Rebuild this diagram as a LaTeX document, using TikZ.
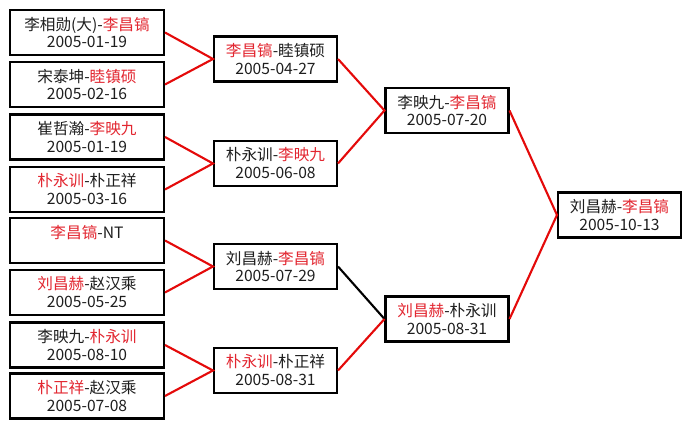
\documentclass[tikz,border=0pt]{standalone}
\usepackage{xcolor}
\usepackage{fontspec}
\setmainfont{Noto Sans CJK SC}
\definecolor{wred}{RGB}{226,38,48}
\definecolor{lred}{RGB}{228,10,10}
\definecolor{tgray}{RGB}{30,30,30}
\usetikzlibrary{positioning}
\newcommand{\win}[1]{\textcolor{wred}{#1}}
\tikzset{
  game/.style={draw=black, line width=1.15pt, minimum height=0.9cm, inner sep=0pt,
    align=center, text=tgray, font=\fontsize{8.9}{10.2}\selectfont},
  first/.style={game, minimum width=3.08cm},
  later/.style={game, minimum width=2.46cm},
  redline/.style={lred, line width=1.2pt},
  blackline/.style={black, line width=1.2pt}
}

\begin{document}
\begin{tikzpicture}
  \useasboundingbox (0,0) rectangle (13.82,8.58);

  % First round
  \node[first] (r1a) at (1.74,7.93) {李相勋(大)-\win{李昌镐}\\2005-01-19};
  \node[first] (r1b) at (1.74,6.89) {宋泰坤-\win{睦镇硕}\\2005-02-16};
  \node[first] (r1c) at (1.74,5.84) {崔哲瀚-\win{李映九}\\2005-01-19};
  \node[first] (r1d) at (1.74,4.79) {\win{朴永训}-朴正祥\\2005-03-16};
  \node[first] (r1e) at (1.74,3.77) {\win{李昌镐}-NT\\\phantom{2005-00-00}};
  \node[first] (r1f) at (1.74,2.73) {\win{刘昌赫}-赵汉乘\\2005-05-25};
  \node[first] (r1g) at (1.74,1.68) {李映九-\win{朴永训}\\2005-08-10};
  \node[first] (r1h) at (1.74,0.66) {\win{朴正祥}-赵汉乘\\2005-07-08};

  % Second round
  \node[later] (r2a) at (5.51,7.40) {\win{李昌镐}-睦镇硕\\2005-04-27};
  \node[later] (r2b) at (5.51,5.31) {朴永训-\win{李映九}\\2005-06-08};
  \node[later] (r2c) at (5.51,3.25) {刘昌赫-\win{李昌镐}\\2005-07-29};
  \node[later] (r2d) at (5.51,1.17) {\win{朴永训}-朴正祥\\2005-08-31};

  % Third round
  \node[later] (r3a) at (8.94,6.37) {李映九-\win{李昌镐}\\2005-07-20};
  \node[later] (r3b) at (8.94,2.20) {\win{刘昌赫}-朴永训\\2005-08-31};

  % Final
  \node[later] (fin) at (12.39,4.28) {刘昌赫-\win{李昌镐}\\2005-10-13};

  % Connectors
  \draw[redline] (r1a.east) -- (r2a.west) -- (r1b.east);
  \draw[redline] (r1c.east) -- (r2b.west) -- (r1d.east);
  \draw[redline] (r1e.east) -- (r2c.west) -- (r1f.east);
  \draw[redline] (r1g.east) -- (r2d.west) -- (r1h.east);
  \draw[redline] (r2a.east) -- (r3a.west) -- (r2b.east);
  \draw[blackline] (r2c.east) -- (r3b.west);
  \draw[redline] (r2d.east) -- (r3b.west);
  \draw[redline] (r3a.east) -- (fin.west) -- (r3b.east);
\end{tikzpicture}
\end{document}
